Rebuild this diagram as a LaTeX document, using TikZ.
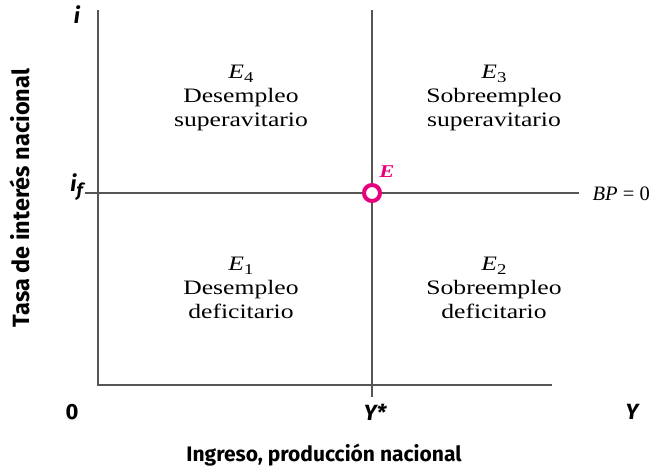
\documentclass[tikz,border=0pt]{standalone}
\usepackage{fontspec}
\newfontfamily\qfont[FakeStretch=1.25]{Liberation Serif}
\newfontfamily\bpfont{Liberation Serif}
\newfontfamily\axf{Fira Sans}
\definecolor{axisgray}{RGB}{85,85,85}
\definecolor{emag}{RGB}{230,0,126}
\begin{document}
\begin{tikzpicture}[x=1pt,y=-1pt,
  axisline/.style={draw=axisgray,line width=1.4pt},
  quad/.style={align=center,font=\qfont\fontsize{20.5}{24}\selectfont,inner sep=0pt},
  axlab/.style={font=\axf\bfseries\fontsize{21}{24}\selectfont,inner sep=0pt},
  tick/.style={font=\axf\bfseries\itshape\fontsize{22}{24}\selectfont,inner sep=0pt}]
\useasboundingbox (0,0) rectangle (651,468);
% axes
\coordinate (O) at (98,385);
\coordinate (ytop) at (98,10);
\coordinate (xend) at (552,385);
\coordinate (vtop) at (372,10);
\coordinate (vbot) at (372,397);
\coordinate (hleft) at (85,193);
\coordinate (hright) at (579,193);
\draw[axisline] (ytop) -- (O) -- (xend);
\draw[axisline] (vtop) -- (vbot);
\draw[axisline] (hleft) -- (hright);
\node[circle,draw=emag,fill=white,line width=4pt,minimum size=16pt,inner sep=0pt] (E) at (372,193) {};
\node[font=\qfont\bfseries\itshape\fontsize{18}{18}\selectfont,text=emag,inner sep=0pt] (Elab) at (387,172) {E};
\node[font=\bpfont\fontsize{20.5}{20}\selectfont,anchor=east,inner sep=0pt] (bp) at (650,194) {\textit{BP} = 0};
% tick labels
\node[tick] (i) at (77,15) {i};
\node[tick,anchor=east] (if) at (83,187) {i\raisebox{-5pt}{\fontsize{18}{18}\selectfont f}};
\node[axlab,font=\axf\bfseries\fontsize{22}{24}\selectfont] (zero) at (72,412) {0};
\node[tick] (ystar) at (375,412) {Y*};
\node[tick] (ylab) at (632,412) {Y};
% axis titles
\node[axlab] (xtitle) at (324,455) {Ingreso, producción nacional};
\node[axlab,rotate=90,font=\axf\bfseries\fontsize{23.5}{24}\selectfont] (ytitle) at (20,198) {Tasa de interés nacional};
% quadrants
\node[quad] (q4) at (241,98) {\textit{E}\raisebox{-4pt}{\fontsize{15}{15}\selectfont 4}\\Desempleo\\superavitario};
\node[quad] (q3) at (494,98) {\textit{E}\raisebox{-4pt}{\fontsize{15}{15}\selectfont 3}\\Sobreempleo\\superavitario};
\node[quad] (q1) at (241,288) {\textit{E}\raisebox{-4pt}{\fontsize{15}{15}\selectfont 1}\\Desempleo\\deficitario};
\node[quad] (q2) at (494,288) {\textit{E}\raisebox{-4pt}{\fontsize{15}{15}\selectfont 2}\\Sobreempleo\\deficitario};
\end{tikzpicture}
\end{document}
